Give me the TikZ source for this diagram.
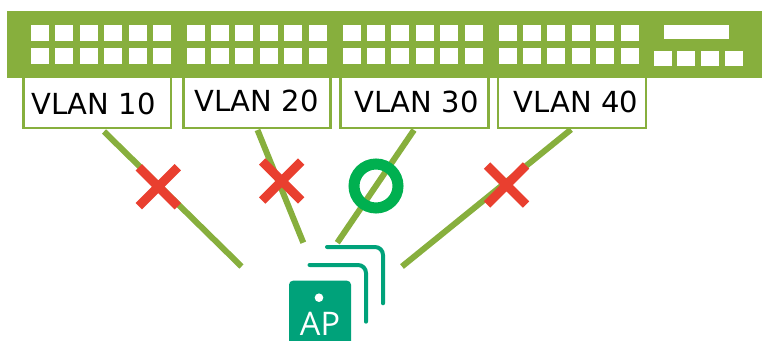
\documentclass[tikz,border=0pt]{standalone}
\usepackage{fontspec}
\setsansfont{DejaVu Sans}
\newfontfamily\apfont{Open Sans}
\usetikzlibrary{shapes.misc}
\definecolor{switchGreen}{HTML}{87AF3D}
\definecolor{crossRed}{HTML}{E93F2F}
\definecolor{ringGreen}{HTML}{00B050}
\definecolor{apTeal}{HTML}{00A27A}

\begin{document}
\begin{tikzpicture}[x = 1pt, y = 1pt, font=\sffamily]
	\tikzstyle{switchStyle}=[shape = rectangle, fill = switchGreen, inner sep = 0pt, outer sep = 0pt, anchor = north west, minimum width = 755pt, minimum height = 67.5pt]
	\tikzstyle{portStyle}=[shape = rectangle, fill = white, inner sep = 0pt, outer sep = 0pt, anchor = north west, minimum width = 18pt, minimum height = 16pt]
	\tikzstyle{bigPortStyle}=[portStyle, minimum width = 65pt, minimum height = 14pt]
	\tikzstyle{smallPortStyle}=[portStyle, minimum height = 15pt]
	\tikzstyle{vlanStyle}=[shape = rectangle, draw = switchGreen, line width = 2.8pt, fill = white, inner sep = 0pt, outer sep = 0pt, anchor = north west, minimum height = 58pt]
	\tikzstyle{textStyle}=[inner sep = 0pt, text = black, font = \sffamily\fontsize{29}{30}\selectfont]
	\tikzstyle{linkStyle}=[draw = switchGreen, line width = 6pt]
	\tikzstyle{crossStyle}=[shape = cross out, draw = crossRed, line width = 9pt, inner sep = 0pt, outer sep = 0pt, minimum width = 39pt, minimum height = 39pt]
	\tikzstyle{ringStyle}=[shape = circle, draw = ringGreen, line width = 11pt, inner sep = 0pt, outer sep = 0pt, minimum size = 44pt]
	\tikzstyle{stackStyle}=[draw = apTeal, line width = 4pt, line cap = round, rounded corners = 8pt]
	\tikzstyle{apStyle}=[shape = rectangle, fill = apTeal, rounded corners = 4pt, inner sep = 0pt, outer sep = 0pt, anchor = north west, minimum width = 62pt, minimum height = 66pt]
	\useasboundingbox (0,0) rectangle (762,340);
	\clip (0,0) rectangle (762,340);
	% vlan boxes, tops run under the switch
	\node[vlanStyle, minimum width = 147.5pt] (vlan10) at (23.5,270) {};
	\node[vlanStyle, minimum width = 147pt] (vlan20) at (183.5,270) {};
	\node[vlanStyle, minimum width = 148pt] (vlan30) at (340.5,270) {};
	\node[vlanStyle, minimum width = 148pt] (vlan40) at (498,270) {};
	\node[switchStyle] (switch) at (7,329) {};
	% upper row
	\node[portStyle] (p0) at (31,314.5) {};
	\node[portStyle] (p1) at (55,314.5) {};
	\node[portStyle] (p2) at (79.5,314.5) {};
	\node[portStyle] (p3) at (104,314.5) {};
	\node[portStyle] (p4) at (129,314.5) {};
	\node[portStyle] (p5) at (153,314.5) {};
	\node[portStyle] (p6) at (187,314.5) {};
	\node[portStyle] (p7) at (211,314.5) {};
	\node[portStyle] (p8) at (235,314.5) {};
	\node[portStyle] (p9) at (259.5,314.5) {};
	\node[portStyle] (p10) at (284,314.5) {};
	\node[portStyle] (p11) at (308.5,314.5) {};
	\node[portStyle] (p12) at (343,314.5) {};
	\node[portStyle] (p13) at (367,314.5) {};
	\node[portStyle] (p14) at (391,314.5) {};
	\node[portStyle] (p15) at (416,314.5) {};
	\node[portStyle] (p16) at (440,314.5) {};
	\node[portStyle] (p17) at (465,314.5) {};
	\node[portStyle] (p18) at (499,314.5) {};
	\node[portStyle] (p19) at (523,314.5) {};
	\node[portStyle] (p20) at (547,314.5) {};
	\node[portStyle] (p21) at (572,314.5) {};
	\node[portStyle] (p22) at (596,314.5) {};
	\node[portStyle] (p23) at (621,314.5) {};
	% lower row
	\node[portStyle] (q0) at (31,292.3) {};
	\node[portStyle] (q1) at (55,292.3) {};
	\node[portStyle] (q2) at (79.5,292.3) {};
	\node[portStyle] (q3) at (104,292.3) {};
	\node[portStyle] (q4) at (129,292.3) {};
	\node[portStyle] (q5) at (153,292.3) {};
	\node[portStyle] (q6) at (187,292.3) {};
	\node[portStyle] (q7) at (211,292.3) {};
	\node[portStyle] (q8) at (235,292.3) {};
	\node[portStyle] (q9) at (259.5,292.3) {};
	\node[portStyle] (q10) at (284,292.3) {};
	\node[portStyle] (q11) at (308.5,292.3) {};
	\node[portStyle] (q12) at (343,292.3) {};
	\node[portStyle] (q13) at (367,292.3) {};
	\node[portStyle] (q14) at (391,292.3) {};
	\node[portStyle] (q15) at (416,292.3) {};
	\node[portStyle] (q16) at (440,292.3) {};
	\node[portStyle] (q17) at (465,292.3) {};
	\node[portStyle] (q18) at (499,292.3) {};
	\node[portStyle] (q19) at (523,292.3) {};
	\node[portStyle] (q20) at (547,292.3) {};
	\node[portStyle] (q21) at (572,292.3) {};
	\node[portStyle] (q22) at (596,292.3) {};
	\node[portStyle] (q23) at (621,292.3) {};
	% uplink ports
	\node[bigPortStyle] (up0) at (664,315) {};
	\node[smallPortStyle] (up1) at (654,289) {};
	\node[smallPortStyle] (up2) at (677,289) {};
	\node[smallPortStyle] (up3) at (701,289) {};
	\node[smallPortStyle] (up4) at (725,289) {};
	% labels
	\node[textStyle] (t10) at (93.5,236.5) {VLAN 10};
	\node[textStyle] (t20) at (256.5,239) {VLAN 20};
	\node[textStyle] (t30) at (416.5,238) {VLAN 30};
	\node[textStyle] (t40) at (576,238) {VLAN 40};
	% free ends of the links
	\coordinate (a10) at (104,208.5);
	\coordinate (b10) at (241.5,73.5);
	\coordinate (a20) at (257.5,210);
	\coordinate (b20) at (303.3,97.3);
	\coordinate (a30) at (414,210);
	\coordinate (b30) at (337.3,97.3);
	\coordinate (a40) at (571,210.5);
	\coordinate (b40) at (402,73.5);
	\draw[linkStyle] (a10) -- (b10);
	\draw[linkStyle] (a20) -- (b20);
	\draw[linkStyle] (a30) -- (b30);
	\draw[linkStyle] (a40) -- (b40);
	\node[crossStyle] (x10) at (158.3,153.3) {};
	\node[crossStyle] (x20) at (281.7,159) {};
	\node[crossStyle] (x40) at (506.5,155) {};
	\node[ringStyle] (ok30) at (376,154) {};
	% access point with its two stacked cards
	\coordinate (s0) at (327,93);
	\coordinate (s1) at (383,36.7);
	\coordinate (s2) at (309.5,75);
	\coordinate (s3) at (366,18.3);
	\draw[stackStyle] (s0) -| (s1);
	\draw[stackStyle] (s2) -| (s3);
	\node[apStyle] (ap) at (289,59.3) {};
	\node[shape = circle, fill = white, inner sep = 0pt, minimum size = 8.6pt] (apdot) at (319,42.3) {};
	\node[anchor = base, inner sep = 0pt, text = white, font = \apfont\fontsize{32.5}{34}\selectfont] (aptext) at (320,5) {AP};
\end{tikzpicture}
\end{document}
